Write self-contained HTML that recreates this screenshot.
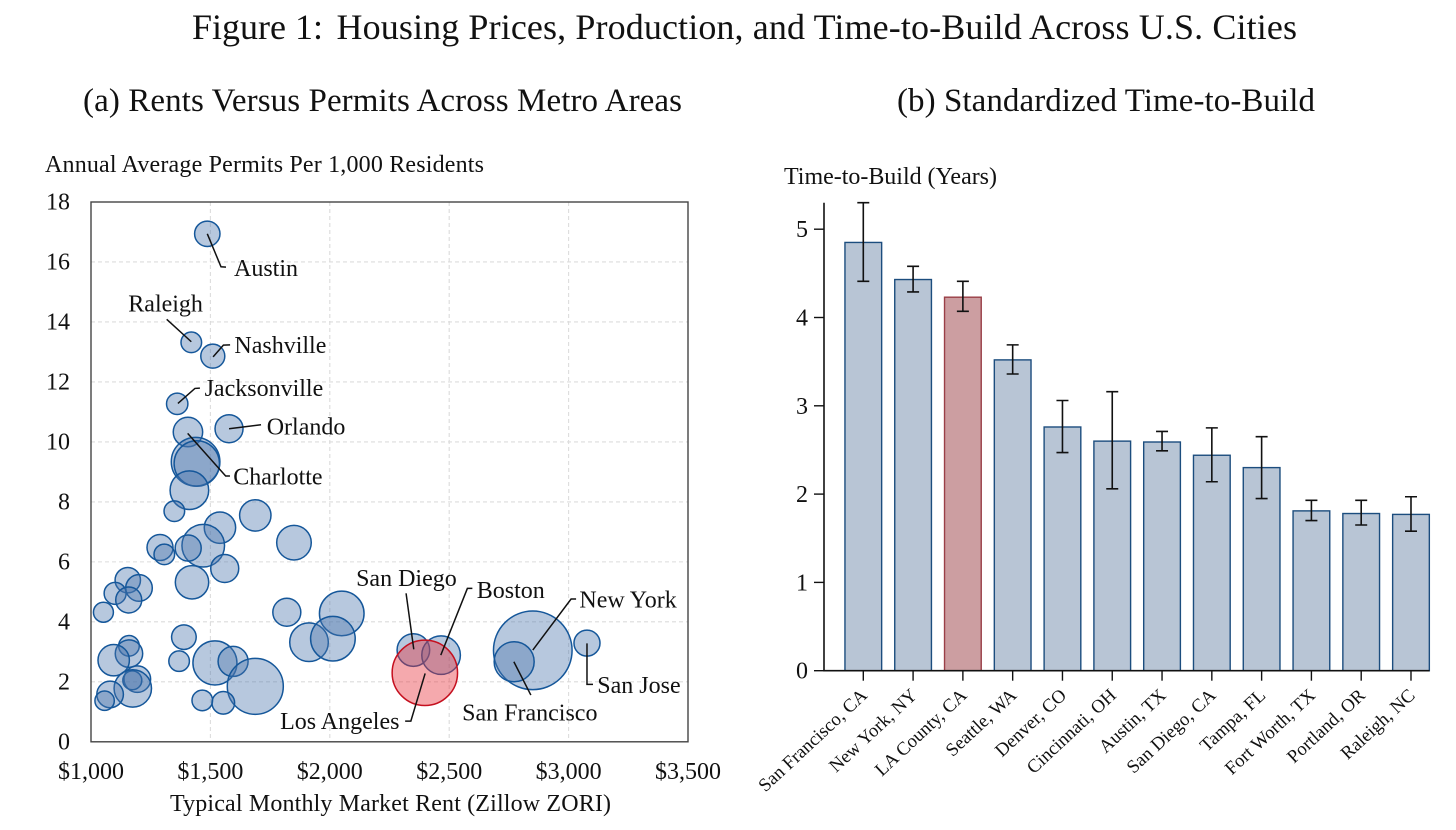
<!DOCTYPE html>
<html lang="en">
<head>
<meta charset="utf-8">
<title>Housing Prices, Production, and Time-to-Build Across U.S. Cities</title>
<style>
html,body{margin:0;padding:0;background:#fff;}
svg{display:block;}
text{font-family:"Liberation Serif","Times New Roman",serif;fill:#111;}
</style>
</head>
<body>
<svg id="figure" xmlns="http://www.w3.org/2000/svg" width="1456" height="830" viewBox="0 0 1456 830">
  <rect x="0" y="0" width="1456" height="830" fill="#fff"/>
  <text y="39" font-size="36"><tspan x="192">Figure 1:</tspan><tspan x="336.5" textLength="960.5">Housing Prices, Production, and Time-to-Build Across U.S. Cities</tspan></text>
  <text x="83" y="111" font-size="33" textLength="599">(a) Rents Versus Permits Across Metro Areas</text>
  <text x="897" y="111" font-size="33" textLength="418">(b) Standardized Time-to-Build</text>
  <text x="45" y="172" font-size="24" textLength="439">Annual Average Permits Per 1,000 Residents</text>
  <text x="170" y="811" font-size="24" textLength="441">Typical Monthly Market Rent (Zillow ZORI)</text>
  <text x="784" y="184" font-size="24" textLength="213">Time-to-Build (Years)</text>
  <g id="panel-a"></g>
  <g id="panel-b"></g>
</svg>
<script>
// Panel (a) data
const xTickValues = [1000, 1500, 2000, 2500, 3000, 3500];
const xTickLabels = ['$1,000', '$1,500', '$2,000', '$2,500', '$3,000', '$3,500'];
const yTickValues = [0, 2, 4, 6, 8, 10, 12, 14, 16, 18];
const bubbleCity = ['Austin','Raleigh','Nashville','Jacksonville','Orlando','Charlotte','','','','','','','','','','','','','','','','','','','','','','','','','','','','','','','','','','','','','','San Diego','Boston','Los Angeles','New York','San Francisco','San Jose'];
const bubbleRent = [1487,1420,1510,1361,1578,1406,1438,1443,1412,1349,1688,1850,1540,1470,1407,1289,1307,1560,1423,1154,1201,1101,1158,1052,1820,2050,1913,2013,1389,1369,1519,1595,1688,1466,1554,1159,1159,1095,1194,1173,1175,1080,1057,2350,2466,2398,2850,2772,3077];
const bubblePermits = [16.94,13.32,12.86,11.27,10.44,10.33,9.34,9.28,8.39,7.69,7.55,6.64,7.14,6.54,6.46,6.48,6.25,5.78,5.32,5.39,5.13,4.95,4.73,4.32,4.32,4.28,3.32,3.44,3.49,2.69,2.63,2.68,1.85,1.38,1.30,3.20,2.94,2.72,2.09,2.05,1.78,1.58,1.37,3.06,2.89,2.30,3.05,2.67,3.29];
const bubblePopulation = [1.99,1.31,1.78,1.41,2.42,2.67,7.29,6.36,4.60,1.31,3.04,3.69,3.04,5.60,2.09,2.09,1.31,2.42,3.44,1.99,2.18,1.49,2.09,1.23,2.42,6.14,4.60,6.14,1.87,1.31,5.98,2.78,9.68,1.31,1.58,1.31,2.32,3.04,2.18,1.11,4.32,2.18,1.16,3.28,4.60,13.20,19.07,4.94,2.09];

// Panel (b) data
const barCities = ['San Francisco, CA','New York, NY','LA County, CA','Seattle, WA','Denver, CO','Cincinnati, OH','Austin, TX','San Diego, CA','Tampa, FL','Fort Worth, TX','Portland, OR','Raleigh, NC'];
const barYears = [4.85,4.43,4.23,3.52,2.76,2.60,2.59,2.44,2.30,1.81,1.78,1.77];
const barUpper = [5.30,4.58,4.41,3.69,3.06,3.16,2.71,2.75,2.65,1.93,1.93,1.97];
const barLower = [4.41,4.29,4.07,3.36,2.47,2.06,2.49,2.14,1.95,1.70,1.65,1.58];
const barYTicks = [0, 1, 2, 3, 4, 5];

// Callout layout, relative to each bubble's centre
const callouts = {
  'Austin': {leader: [[0,0],[13.7,33],[18.7,33.3]], tx: 26.7, ty: 42.3, anchor: 'start'},
  'Raleigh': {leader: [[0,-0.6],[-24.6,-23]], tx: -63, ty: -30.6, anchor: 'start'},
  'Nashville': {leader: [[0.3,0.7],[10.6,-11],[17.3,-11.3]], tx: 21.6, ty: -3, anchor: 'start'},
  'Jacksonville': {leader: [[0.7,-0.4],[17.7,-15.4],[22.7,-15.7]], tx: 27.4, ty: -7.7, anchor: 'start'},
  'Orlando': {leader: [[0,0],[32,-4]], tx: 37.7, ty: 5.6, anchor: 'start'},
  'Charlotte': {leader: [[-0.3,1.3],[37.7,44],[42,44]], tx: 45.3, ty: 52.3, anchor: 'start'},
  'San Diego': {leader: [[0.4,-0.7],[-7.3,-56.7]], tx: -57.3, ty: -64, anchor: 'start'},
  'Boston': {leader: [[-0.3,0],[26.3,-66.7],[31.3,-66.7]], tx: 35.7, ty: -57.3, anchor: 'start'},
  'Los Angeles': {leader: [[0.3,0.6],[-14,48.3],[-19.7,48.3]], tx: -25.4, ty: 56.3, anchor: 'end'},
  'New York': {leader: [[0,-0.3],[38.3,-51.3],[43.3,-51.3]], tx: 46.6, ty: -43, anchor: 'start'},
  'San Francisco': {leader: [[-0.3,0],[16.7,33.3]], tx: -52, ty: 59, anchor: 'start'},
  'San Jose': {leader: [[0,0.3],[0,41.3],[6,41.3]], tx: 10.3, ty: 49.7, anchor: 'start'}
};

const NS = 'http://www.w3.org/2000/svg';
function make(parent, tag, props, content) {
  const node = document.createElementNS(NS, tag);
  for (const key in props) node.setAttribute(key, props[key]);
  if (content !== undefined) node.textContent = content;
  parent.appendChild(node);
  return node;
}
function slug(s) {
  return s.toLowerCase().replace(/[^a-z0-9]+/g, '-').replace(/(^-|-$)/g, '');
}

// Axis functions, panel (a)
const plotA = {left: 91, right: 688, top: 202, bottom: 741.8};
function xA(rent) { return plotA.left + (rent - 1000) / 2500 * (plotA.right - plotA.left); }
function yA(permits) { return plotA.bottom - permits / 18 * (plotA.bottom - plotA.top); }
function radiusA(pop) { return 9 * Math.sqrt(pop); }

const panelA = document.getElementById('panel-a');

yTickValues.forEach(function (v) {
  if (v > 0 && v < 18) {
    const grid = make(panelA, 'line', {x1: plotA.left, x2: plotA.right, y1: yA(v), y2: yA(v), stroke: '#dcdcdc', 'stroke-width': 1.1, 'stroke-dasharray': '4 3'});
    
    
  }
  const label = make(panelA, 'text', {x: 70, y: yA(v) + 7.5, 'font-size': 24, 'text-anchor': 'end'}, String(v));
  
  
});
xTickValues.forEach(function (v, i) {
  if (v > 1000 && v < 3500) {
    const grid = make(panelA, 'line', {x1: xA(v), x2: xA(v), y1: plotA.top, y2: plotA.bottom, stroke: '#dcdcdc', 'stroke-width': 1.1, 'stroke-dasharray': '4 3'});
    
    
  }
  const label = make(panelA, 'text', {x: xA(v), y: 779, 'font-size': 24, 'text-anchor': 'middle'}, xTickLabels[i]);
  
  
});

const frame = make(panelA, 'rect', {x: plotA.left, y: plotA.top, width: plotA.right - plotA.left, height: plotA.bottom - plotA.top, fill: 'none', stroke: '#444', 'stroke-width': 1.4});



bubbleRent.forEach(function (rent, i) {
  const isLA = bubbleCity[i] === 'Los Angeles';
  const bubble = make(panelA, 'circle', {
    cx: xA(rent),
    cy: yA(bubblePermits[i]),
    r: radiusA(bubblePopulation[i]),
    fill: isLA ? 'rgba(232,50,60,0.42)' : 'rgba(75,117,172,0.4)',
    stroke: isLA ? '#c5101f' : '#15579a',
    'stroke-width': 1.5
  });
  
  
});

bubbleCity.forEach(function (city, i) {
  if (!city) return;
  const c = callouts[city];
  const px = xA(bubbleRent[i]);
  const py = yA(bubblePermits[i]);
  const pts = c.leader.map(function (p) { return (px + p[0]) + ',' + (py + p[1]); }).join(' ');
  const leader = make(panelA, 'polyline', {points: pts, fill: 'none', stroke: '#111', 'stroke-width': 1.5});
  
  
  const label = make(panelA, 'text', {x: px + c.tx, y: py + c.ty, 'font-size': 24, 'text-anchor': c.anchor}, city);
  
  
});

// Axis functions, panel (b)
const plotB = {left: 824, right: 1429.5, top: 202.7, bottom: 670.7, firstBar: 863.3, step: 49.79, barWidth: 36.7};
function xB(index) { return plotB.firstBar + index * plotB.step; }
function yB(years) { return plotB.bottom - years * 88.3; }

const panelB = document.getElementById('panel-b');

barYears.forEach(function (v, i) {
  const isLA = barCities[i].indexOf('LA County') === 0;
  const bar = make(panelB, 'rect', {
    x: xB(i) - plotB.barWidth / 2,
    y: yB(v),
    width: plotB.barWidth,
    height: plotB.bottom - yB(v),
    fill: isLA ? '#cc9ea1' : '#b8c5d5',
    stroke: isLA ? '#9a3f47' : '#1c4d7e',
    'stroke-width': 1.4
  });
  
  
});

barYears.forEach(function (v, i) {
  const x = xB(i);
  const d = 'M' + (x - 6) + ' ' + yB(barUpper[i]) + 'H' + (x + 6) +
            'M' + x + ' ' + yB(barUpper[i]) + 'V' + yB(barLower[i]) +
            'M' + (x - 6) + ' ' + yB(barLower[i]) + 'H' + (x + 6);
  const err = make(panelB, 'path', {d: d, fill: 'none', stroke: '#111', 'stroke-width': 1.6});
  
  
  const tick = make(panelB, 'line', {x1: x, x2: x, y1: plotB.bottom, y2: plotB.bottom + 10, stroke: '#111', 'stroke-width': 1.4});
  
  
  const label = make(panelB, 'text', {'font-size': 18.7, 'text-anchor': 'end', transform: 'translate(' + (x + 5) + ',' + (plotB.bottom + 26) + ') rotate(-43)'}, barCities[i]);
  
  
});

barYTicks.forEach(function (v) {
  const tick = make(panelB, 'line', {x1: plotB.left - 10, x2: plotB.left, y1: yB(v), y2: yB(v), stroke: '#111', 'stroke-width': 1.4});
  
  
  const label = make(panelB, 'text', {x: 808, y: yB(v) + 8, 'font-size': 24, 'text-anchor': 'end'}, String(v));
  
  
});

const yAxisB = make(panelB, 'line', {x1: plotB.left, x2: plotB.left, y1: plotB.top, y2: plotB.bottom, stroke: '#111', 'stroke-width': 1.6});


const xAxisB = make(panelB, 'line', {x1: plotB.left - 0.8, x2: plotB.right, y1: plotB.bottom, y2: plotB.bottom, stroke: '#111', 'stroke-width': 1.6});


</script>
</body>
</html>
